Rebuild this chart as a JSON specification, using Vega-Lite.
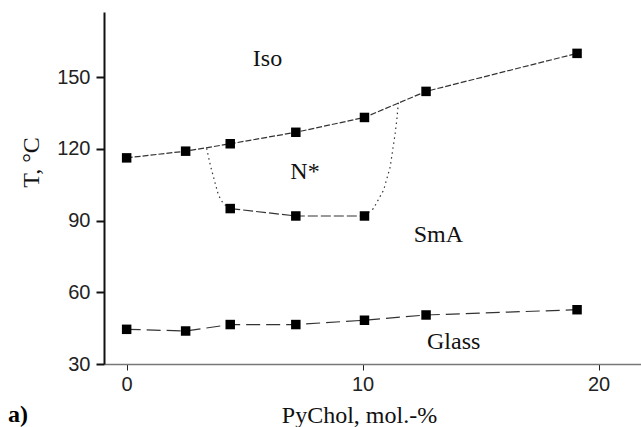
{
  "$schema": "https://vega.github.io/schema/vega-lite/v6.json",
  "width": 537,
  "height": 352,
  "autosize": {"type": "none"},
  "padding": {"left": 104, "top": 12, "right": 0, "bottom": 63},
  "background": "white",
  "title": {
    "text": "a)",
    "orient": "bottom",
    "anchor": "start",
    "frame": "group",
    "dx": -96,
    "dy": -24,
    "offset": 0,
    "font": "Liberation Serif",
    "fontWeight": "bold",
    "fontSize": 24,
    "color": "black"
  },
  "config": {
    "view": {"stroke": null},
    "axis": {"grid": false}
  },
  "datasets": {
    "lines": [
      {"series": "Iso", "x": 0, "T": 116.2},
      {"series": "Iso", "x": 2.5, "T": 119},
      {"series": "Iso", "x": 4.39, "T": 122.1},
      {"series": "Iso", "x": 7.17, "T": 126.9},
      {"series": "Iso", "x": 10.08, "T": 133.1},
      {"series": "Iso", "x": 12.69, "T": 144},
      {"series": "Iso", "x": 19.09, "T": 159.9},
      {"series": "SmA", "x": 4.39, "T": 95},
      {"series": "SmA", "x": 7.17, "T": 91.9},
      {"series": "SmA", "x": 10.08, "T": 91.9},
      {"series": "Glass", "x": 0, "T": 44.5},
      {"series": "Glass", "x": 2.5, "T": 43.8},
      {"series": "Glass", "x": 4.39, "T": 46.5},
      {"series": "Glass", "x": 7.17, "T": 46.5},
      {"series": "Glass", "x": 10.08, "T": 48.3},
      {"series": "Glass", "x": 12.69, "T": 50.5},
      {"series": "Glass", "x": 19.09, "T": 52.7},
      {"series": "left", "x": 3.39, "T": 120.2},
      {"series": "left", "x": 3.55, "T": 113},
      {"series": "left", "x": 3.7, "T": 107.5},
      {"series": "left", "x": 3.89, "T": 100.6},
      {"series": "left", "x": 4.1, "T": 97},
      {"series": "left", "x": 4.39, "T": 95},
      {"series": "right", "x": 10.08, "T": 92},
      {"series": "right", "x": 10.46, "T": 95},
      {"series": "right", "x": 10.89, "T": 102.7},
      {"series": "right", "x": 11.17, "T": 112.4},
      {"series": "right", "x": 11.38, "T": 126.4},
      {"series": "right", "x": 11.45, "T": 132},
      {"series": "right", "x": 11.52, "T": 139.6}
    ],
    "labels": [
      {"text": "Iso", "x": 5.97, "T": 157.4},
      {"text": "N*", "x": 7.56, "T": 110.3},
      {"text": "SmA", "x": 13.21, "T": 83.8},
      {"text": "Glass", "x": 13.86, "T": 39.2}
    ]
  },
  "encoding": {
    "x": {
      "field": "x",
      "type": "quantitative",
      "scale": {"domain": [-0.96, 21.8], "nice": false, "zero": false},
      "axis": {
        "title": "PyChol, mol.-%",
        "values": [0, 10, 20],
        "domainColor": "#777",
        "domainWidth": 1.5,
        "tickColor": "#222",
        "tickWidth": 1,
        "tickSize": 6,
        "labelFont": "Liberation Sans",
        "labelFontSize": 20,
        "labelColor": "#222",
        "labelPadding": 4,
        "titleFont": "Liberation Serif",
        "titleFontSize": 24,
        "titleFontWeight": "normal",
        "titleColor": "#111",
        "titleX": 255,
        "titleY": 51,
        "titleBaseline": "middle"
      }
    },
    "y": {
      "field": "T",
      "type": "quantitative",
      "scale": {"domain": [30, 177.2], "nice": false, "zero": false},
      "axis": {
        "title": "T, °C",
        "values": [30, 60, 90, 120, 150],
        "domainColor": "#111",
        "domainWidth": 2,
        "tickColor": "#111",
        "tickWidth": 2,
        "tickSize": 8,
        "labelFont": "Liberation Sans",
        "labelFontSize": 20,
        "labelColor": "#222",
        "labelPadding": 6,
        "titleFont": "Liberation Serif",
        "titleFontSize": 24,
        "titleFontWeight": "normal",
        "titleColor": "#111",
        "titleX": -73,
        "titleY": 150,
        "titleBaseline": "middle"
      }
    }
  },
  "layer": [
    {
      "data": {"name": "lines"},
      "mark": {"type": "line", "strokeWidth": 1.2, "color": "#333"},
      "encoding": {
        "detail": {"field": "series"},
        "strokeDash": {
          "field": "series",
          "type": "nominal",
          "scale": {
            "domain": ["Iso", "SmA", "Glass", "left", "right"],
            "range": [[6, 2], [10, 3], [14, 6], [1.5, 3.5], [1.5, 3.5]]
          },
          "legend": null
        }
      }
    },
    {
      "data": {"name": "lines"},
      "transform": [{"filter": "datum.series === 'Iso' || datum.series === 'SmA' || datum.series === 'Glass'"}],
      "mark": {"type": "point", "shape": "square", "filled": true, "size": 90, "color": "black", "opacity": 1},
      "encoding": {}
    },
    {
      "data": {"name": "labels"},
      "mark": {"type": "text", "font": "Liberation Serif", "fontSize": 24, "color": "#111", "baseline": "middle", "align": "center"},
      "encoding": {"text": {"field": "text"}}
    }
  ]
}
